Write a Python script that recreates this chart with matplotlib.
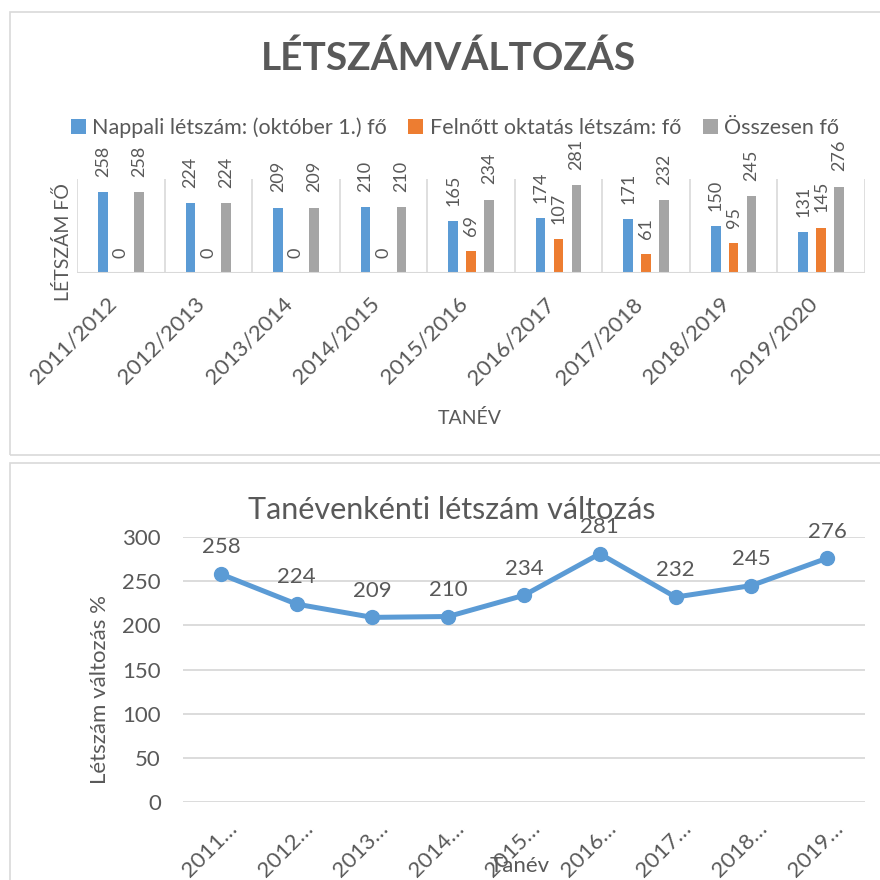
import numpy as np
import matplotlib
matplotlib.use('Agg')
import matplotlib.pyplot as plt
from matplotlib.patches import Rectangle
from matplotlib.transforms import ScaledTranslation

plt.rcParams['font.family'] = ['Lato', 'DejaVu Sans']

# data
tanev = ['2011/2012', '2012/2013', '2013/2014', '2014/2015', '2015/2016',
         '2016/2017', '2017/2018', '2018/2019', '2019/2020']
tanev_rovid = ['2011…', '2012…', '2013…', '2014…', '2015…',
               '2016…', '2017…', '2018…', '2019…']
nappali = [258, 224, 209, 210, 165, 174, 171, 150, 131]
felnott = [0, 0, 0, 0, 69, 107, 61, 95, 145]
osszesen = [258, 224, 209, 210, 234, 281, 232, 245, 276]

kek = '#5B9BD5'
narancs = '#ED7D31'
szurke = '#A5A5A5'
szoveg = '#595959'
racs = '#D9D9D9'

W = 880.0
fig = plt.figure(figsize=(8.8, 8.8), dpi=100)

# chart borders
fig.patches.append(Rectangle((10/W, 1-455/W), 0.99, (455-12)/W, fill=False,
                             edgecolor=racs, lw=1.2, transform=fig.transFigure))
fig.patches.append(Rectangle((10/W, -0.05), 0.99, 0.05 + 1-463/W, fill=False,
                             edgecolor=racs, lw=1.2, transform=fig.transFigure))

# ---- top chart: bars
ax1 = fig.add_axes([77/W, 1-273/W, (865-77)/W, (273-179)/W])
x = np.arange(len(tanev))
w = 0.11
b1 = ax1.bar(x - 0.205, nappali, w, color=kek, label='Nappali létszám: (október 1.) fő')
b2 = ax1.bar(x, felnott, w, color=narancs, label='Felnőtt oktatás létszám: fő')
b3 = ax1.bar(x + 0.205, osszesen, w, color=szurke, label='Összesen fő')
for b in (b1, b2, b3):
    ax1.bar_label(b, rotation=90, padding=11, fontsize=13, color=szoveg)
for s in np.arange(-0.5, len(tanev)):
    ax1.axvline(s, color=racs, lw=1.2, zorder=0)
ax1.axhline(0, color=racs, lw=1.5)
ax1.set_xlim(-0.5, len(tanev) - 0.5)
ax1.set_ylim(0, 300)
ax1.set_yticks([])
for sp in ax1.spines.values():
    sp.set_visible(False)
ax1.set_xticks(x, tanev, rotation=45, ha='right', va='top')
ax1.tick_params(axis='x', length=0, pad=15, labelsize=16, labelcolor=szoveg)

fig.text(448/W, 1-58/W, 'LÉTSZÁMVÁLTOZÁS', ha='center', va='center',
         fontsize=28, fontweight='bold', color=szoveg)
fig.legend(handles=[b1, b2, b3], loc='center', bbox_to_anchor=(455/W, 1-128/W),
           ncol=3, frameon=False, fontsize=15.5, handlelength=0.7, handleheight=0.7,
           handletextpad=0.3, columnspacing=1.0, labelcolor=szoveg)
fig.text(63/W, 1-242/W, 'LÉTSZÁM FŐ', rotation=90, ha='center', va='center',
         fontsize=14, color=szoveg)
fig.text(470/W, 1-418/W, 'TANÉV', ha='center', va='center', fontsize=14, color=szoveg)

# ---- bottom chart: line
ax2 = fig.add_axes([183/W, 1-802/W, (865-183)/W, (802-537)/W])
ax2.plot(x, osszesen, color=kek, lw=3.6, marker='o', ms=10, zorder=3)
for xi, v in zip(x, osszesen):
    ax2.annotate(str(v), (xi, v), xytext=(0, 12), textcoords='offset points',
                 ha='center', va='bottom', fontsize=16, color=szoveg)
ax2.set_xlim(-0.5, len(tanev) - 0.5)
ax2.set_ylim(0, 300)
ax2.set_yticks(np.arange(0, 301, 50))
ax2.grid(axis='y', color=racs, lw=1.3)
ax2.set_axisbelow(True)
for sp in ax2.spines.values():
    sp.set_visible(False)
ax2.set_xticks(x, tanev_rovid, rotation=45, ha='right', va='top')
ax2.tick_params(axis='both', length=0, labelsize=16, labelcolor=szoveg)
ax2.tick_params(axis='y', pad=16)
ax2.tick_params(axis='x', pad=12)
eltol = ScaledTranslation(20/100, 0, fig.dpi_scale_trans)
for lab in ax2.get_xticklabels():
    lab.set_transform(lab.get_transform() + eltol)

fig.text(452/W, 1-510/W, 'Tanévenkénti létszám változás', ha='center', va='center',
         fontsize=22, color=szoveg)
fig.text(100/W, 1-690/W, 'Létszám változás %', rotation=90, ha='center', va='center',
         fontsize=16, color=szoveg)
fig.text(520/W, 1-866/W, 'Tanév', ha='center', va='center', fontsize=16, color=szoveg)

fig.savefig('out.png', dpi=100)
